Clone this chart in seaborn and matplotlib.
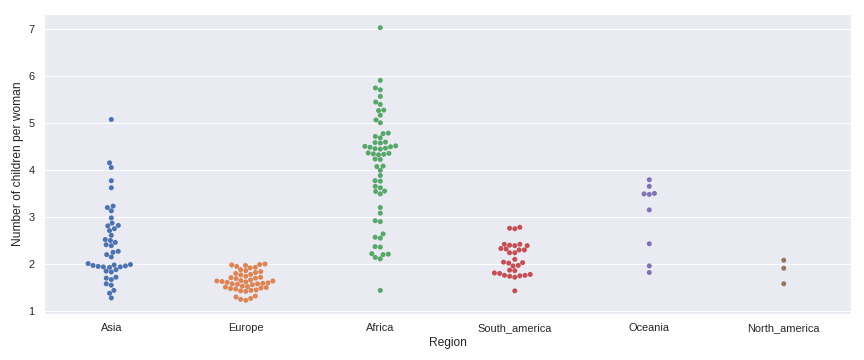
import matplotlib
matplotlib.use("Agg")
import matplotlib.pyplot as plt
import seaborn as sns
import pandas as pd

REGIONS = ["Asia", "Europe", "Africa", "South_america", "Oceania", "North_america"]

asia = [5.07, 4.15, 4.05, 3.77, 3.62, 3.23, 3.20, 3.13, 2.98, 2.87, 2.82, 2.81,
        2.75, 2.71, 2.61, 2.52, 2.50, 2.46, 2.41, 2.39, 2.27, 2.25, 2.20, 2.15,
        2.01, 1.99, 1.98, 1.97, 1.96, 1.95, 1.94, 1.94, 1.93, 1.88, 1.85, 1.83,
        1.72, 1.70, 1.67, 1.58, 1.55, 1.44, 1.38, 1.28]
europe = [2.00, 1.99, 1.98, 1.97, 1.95, 1.93, 1.92, 1.88, 1.86, 1.84, 1.82, 1.80,
          1.78, 1.77, 1.74, 1.72, 1.71, 1.70, 1.69, 1.66, 1.65, 1.64, 1.64, 1.63,
          1.62, 1.61, 1.60, 1.59, 1.58, 1.58, 1.57, 1.56, 1.53, 1.52, 1.51, 1.50,
          1.49, 1.48, 1.47, 1.45, 1.44, 1.43, 1.42, 1.32, 1.30, 1.27, 1.25, 1.23]
africa = [7.02, 5.90, 5.74, 5.70, 5.56, 5.44, 5.39, 5.27, 5.26, 5.16, 5.06, 5.00,
          4.78, 4.77, 4.71, 4.68, 4.59, 4.58, 4.57, 4.51, 4.50, 4.49, 4.48, 4.46,
          4.45, 4.44, 4.36, 4.35, 4.34, 4.33, 4.32, 4.23, 4.22, 4.08, 4.07, 3.99,
          3.88, 3.77, 3.76, 3.65, 3.62, 3.55, 3.54, 3.49, 3.20, 3.08, 2.92, 2.90,
          2.64, 2.57, 2.55, 2.37, 2.36, 2.22, 2.21, 2.20, 2.14, 2.11, 1.44]
south_america = [2.78, 2.76, 2.75, 2.42, 2.42, 2.40, 2.39, 2.39, 2.33, 2.32, 2.30,
                 2.30, 2.24, 2.24, 2.10, 2.04, 2.03, 2.02, 1.97, 1.96, 1.87, 1.86,
                 1.81, 1.80, 1.78, 1.76, 1.76, 1.75, 1.74, 1.72, 1.43]
oceania = [3.79, 3.65, 3.50, 3.49, 3.48, 3.15, 2.43, 1.96, 1.82]
north_america = [2.08, 1.91, 1.58]

values = [asia, europe, africa, south_america, oceania, north_america]
df = pd.DataFrame({
    "Region": [r for r, v in zip(REGIONS, values) for _ in v],
    "children": [x for v in values for x in v],
})

sns.set_theme(style="darkgrid")
plt.rcParams["font.family"] = ["Liberation Sans", "DejaVu Sans"]

fig, ax = plt.subplots(figsize=(12, 5), dpi=72)
sns.swarmplot(data=df, x="Region", y="children", hue="Region",
              order=REGIONS, hue_order=REGIONS, legend=False, size=5, ax=ax)
ax.set_xlabel("Region")
ax.set_ylabel("Number of children per woman")
fig.subplots_adjust(left=0.051, right=0.985, top=0.961, bottom=0.128)
fig.savefig("out.png", dpi=72)
